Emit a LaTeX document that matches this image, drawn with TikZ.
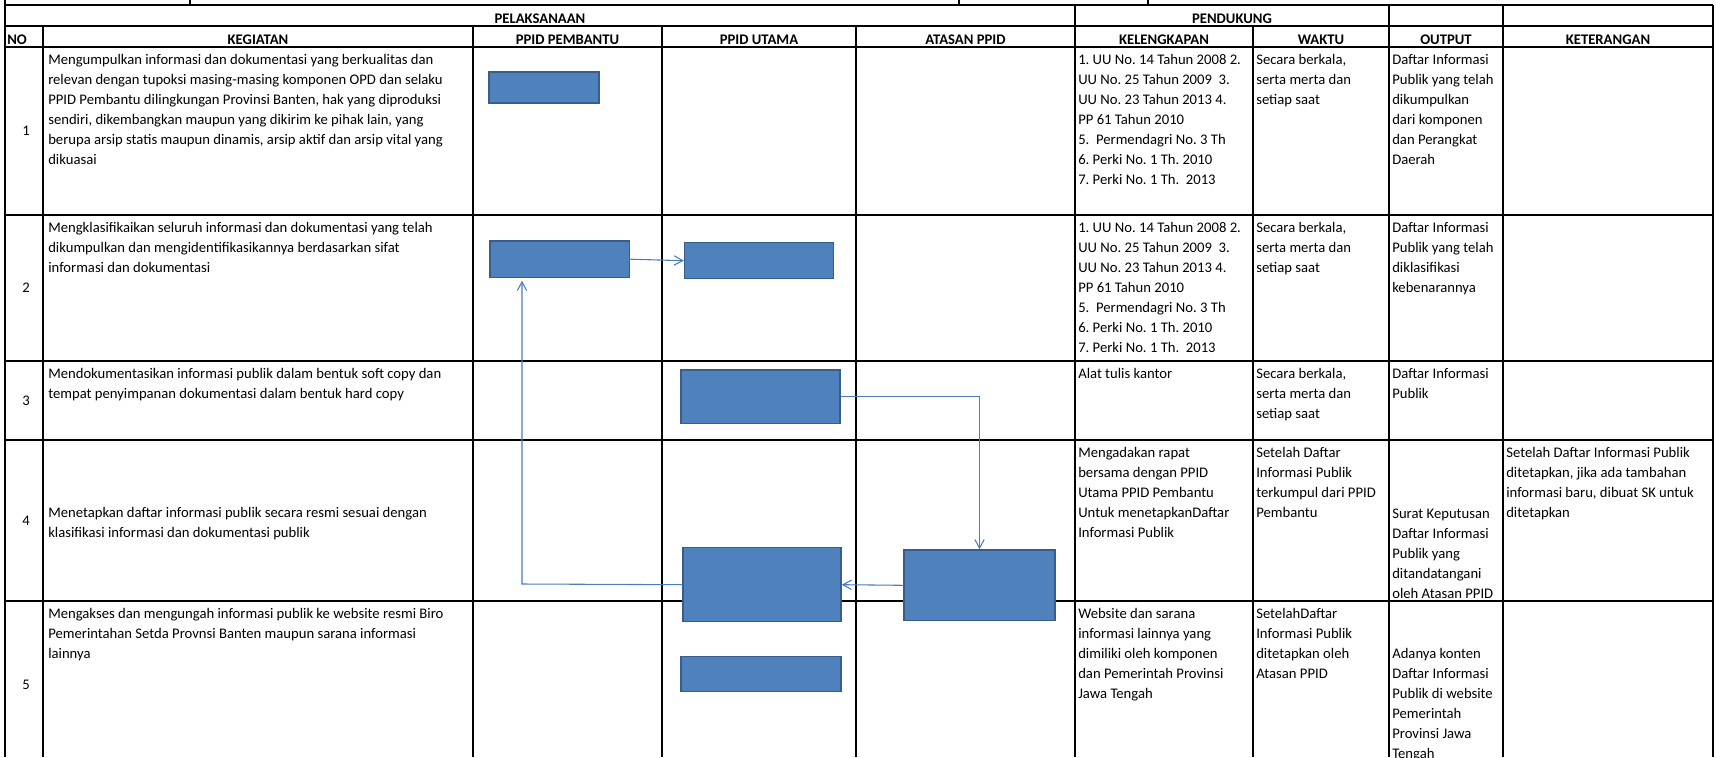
\documentclass[tikz,border=0pt]{standalone}
\usepackage{fontspec}
\setmainfont{Carlito}
\usetikzlibrary{arrows.meta}
\definecolor{boxfill}{HTML}{4F81BD}
\definecolor{boxline}{HTML}{385D8A}
\definecolor{flowline}{HTML}{4A7EBB}
\frenchspacing

\begin{document}
\begin{tikzpicture}[x=0.75pt,y=-0.75pt]
\tikzstyle{tableline} = [draw=black, line width=2.2pt]
\tikzstyle{flowbox} = [rectangle, draw=boxline, fill=boxfill, line width=1.1pt, inner sep=0pt]
\tikzstyle{flowarrow} = [draw=flowline, line width=0.8pt, -{Straight Barb[length=6.5pt,width=7pt]}]
\tikzstyle{celltext} = [anchor=north west, inner sep=0pt, align=left, font=\fontsize{11pt}{15pt}\selectfont]
\tikzstyle{headtext} = [anchor=base, inner sep=0pt, font=\fontsize{11pt}{15pt}\selectfont\bfseries]
\tikzstyle{numtext} = [anchor=center, inner sep=0pt, font=\fontsize{11pt}{15pt}\selectfont]

\clip (0,0) rectangle (1716,757);

% table
\draw[tableline] (5,5) -- (1713,5);
\draw[tableline] (5,26) -- (1713,26);
\draw[tableline] (5,47) -- (1713,47);
\draw[tableline] (5,215) -- (1713,215);
\draw[tableline] (5,361) -- (1713,361);
\draw[tableline] (5,440) -- (1713,440);
\draw[tableline] (5,601) -- (1713,601);
\draw[tableline] (5,0) -- (5,757);
\draw[tableline] (190,0) -- (190,5);
\draw[tableline] (959,0) -- (959,5);
\draw[tableline] (1148,0) -- (1148,5);
\draw[tableline] (43,26) -- (43,757);
\draw[tableline] (473,26) -- (473,757);
\draw[tableline] (662,26) -- (662,757);
\draw[tableline] (856,26) -- (856,757);
\draw[tableline] (1075,5) -- (1075,757);
\draw[tableline] (1253,26) -- (1253,757);
\draw[tableline] (1389,5) -- (1389,757);
\draw[tableline] (1503,5) -- (1503,757);
\draw[tableline] (1713,5) -- (1713,757);

\node[headtext] (hpel) at (540,23) {PELAKSANAAN};
\node[headtext] (hpen) at (1232,23) {PENDUKUNG};
\node[headtext, anchor=base west] (hno) at (7,44) {NO};
\node[headtext] (hkeg) at (258,44) {KEGIATAN};
\node[headtext] (hpem) at (567.5,44) {PPID PEMBANTU};
\node[headtext] (huta) at (759,44) {PPID UTAMA};
\node[headtext] (hata) at (965.5,44) {ATASAN PPID};
\node[headtext] (hkel) at (1164,44) {KELENGKAPAN};
\node[headtext] (hwak) at (1321,44) {WAKTU};
\node[headtext] (hout) at (1446,44) {OUTPUT};
\node[headtext] (hket) at (1608,44) {KETERANGAN};

\node[numtext] (n1) at (26,131) {1};
\node[numtext] (n2) at (26,288) {2};
\node[numtext] (n3) at (26,400.5) {3};
\node[numtext] (n4) at (26,520.5) {4};
\node[numtext] (n5) at (26,685) {5};

% kegiatan
\node[celltext] (k1) at (48,50) {\strut Mengumpulkan informasi dan dokumentasi yang berkualitas dan\\relevan dengan tupoksi masing-masing komponen OPD dan selaku\\PPID Pembantu dilingkungan Provinsi Banten, hak yang diproduksi\\sendiri, dikembangkan maupun yang dikirim ke pihak lain, yang\\berupa arsip statis maupun dinamis, arsip aktif dan arsip vital yang\\dikuasai};
\node[celltext] (k2) at (48,218) {\strut Mengklasifikaikan seluruh informasi dan dokumentasi yang telah\\dikumpulkan dan mengidentifikasikannya berdasarkan sifat\\informasi dan dokumentasi};
\node[celltext] (k3) at (48,364) {\strut Mendokumentasikan informasi publik dalam bentuk soft copy dan\\tempat penyimpanan dokumentasi dalam bentuk hard copy};
\node[celltext] (k4) at (48,503) {\strut Menetapkan daftar informasi publik secara resmi sesuai dengan\\klasifikasi informasi dan dokumentasi publik};
\node[celltext] (k5) at (48,604) {\strut Mengakses dan mengungah informasi publik ke website resmi Biro\\Pemerintahan Setda Provnsi Banten maupun sarana informasi\\lainnya};

% kelengkapan
\node[celltext] (l1) at (1078,50) {\strut 1. UU No. 14 Tahun 2008 2.\\UU No. 25 Tahun 2009~ 3.\\UU No. 23 Tahun 2013 4.\\PP 61 Tahun 2010\\5.~ Permendagri No. 3 Th\\6. Perki No. 1 Th. 2010\\7. Perki No. 1 Th.~ 2013};
\node[celltext] (l2) at (1078,218) {\strut 1. UU No. 14 Tahun 2008 2.\\UU No. 25 Tahun 2009~ 3.\\UU No. 23 Tahun 2013 4.\\PP 61 Tahun 2010\\5.~ Permendagri No. 3 Th\\6. Perki No. 1 Th. 2010\\7. Perki No. 1 Th.~ 2013};
\node[celltext] (l3) at (1078,364) {\strut Alat tulis kantor};
\node[celltext] (l4) at (1078,443) {\strut Mengadakan rapat\\bersama dengan PPID\\Utama PPID Pembantu\\Untuk menetapkanDaftar\\Informasi Publik};
\node[celltext] (l5) at (1078,604) {\strut Website dan sarana\\informasi lainnya yang\\dimiliki oleh komponen\\dan Pemerintah Provinsi\\Jawa Tengah};

% waktu
\node[celltext] (w1) at (1256,50) {\strut Secara berkala,\\serta merta dan\\setiap saat};
\node[celltext] (w2) at (1256,218) {\strut Secara berkala,\\serta merta dan\\setiap saat};
\node[celltext] (w3) at (1256,364) {\strut Secara berkala,\\serta merta dan\\setiap saat};
\node[celltext] (w4) at (1256,443) {\strut Setelah Daftar\\Informasi Publik\\terkumpul dari PPID\\Pembantu};
\node[celltext] (w5) at (1256,604) {\strut SetelahDaftar\\Informasi Publik\\ditetapkan oleh\\Atasan PPID};

% output
\node[celltext] (o1) at (1392,50) {\strut Daftar Informasi\\Publik yang telah\\dikumpulkan\\dari komponen\\dan Perangkat\\Daerah};
\node[celltext] (o2) at (1392,218) {\strut Daftar Informasi\\Publik yang telah\\diklasifikasi\\kebenarannya};
\node[celltext] (o3) at (1392,364) {\strut Daftar Informasi\\Publik};
\node[celltext] (o4) at (1392,504) {\strut Surat Keputusan\\Daftar Informasi\\Publik yang\\ditandatangani\\oleh Atasan PPID};
\node[celltext] (o5) at (1392,644) {\strut Adanya konten\\Daftar Informasi\\Publik di website\\Pemerintah\\Provinsi Jawa\\Tengah};

% keterangan
\node[celltext] (t4) at (1506,443) {\strut Setelah Daftar Informasi Publik\\ditetapkan, jika ada tambahan\\informasi baru, dibuat SK untuk\\ditetapkan};

% alur
\node[flowbox, minimum width=82.5pt, minimum height=23.25pt] (p1) at (544,87.5) {};
\node[flowbox, minimum width=104.6pt, minimum height=27.2pt] (p2) at (559.8,259.2) {};
\node[flowbox, minimum width=111.6pt, minimum height=27pt] (u2) at (759,260.7) {};
\node[flowbox, minimum width=119.25pt, minimum height=40pt] (u3) at (760.5,396.7) {};
\node[flowbox, minimum width=118.5pt, minimum height=55.5pt] (u4) at (762,584.7) {};
\node[flowbox, minimum width=113.25pt, minimum height=53pt] (a4) at (979.5,585.3) {};
\node[flowbox, minimum width=120pt, minimum height=26.25pt] (u5) at (761,674.2) {};
\coordinate (back) at (522,584);

\draw[flowarrow] (p2.east) -- (u2.west);
\draw[flowarrow] (u3.east) -| (a4.north);
\draw[flowarrow] (a4.west) -- (u4.east);
\draw[flowarrow, shorten >=2pt] (u4.west) -- (back) -- (back |- p2.south);
\end{tikzpicture}
\end{document}
